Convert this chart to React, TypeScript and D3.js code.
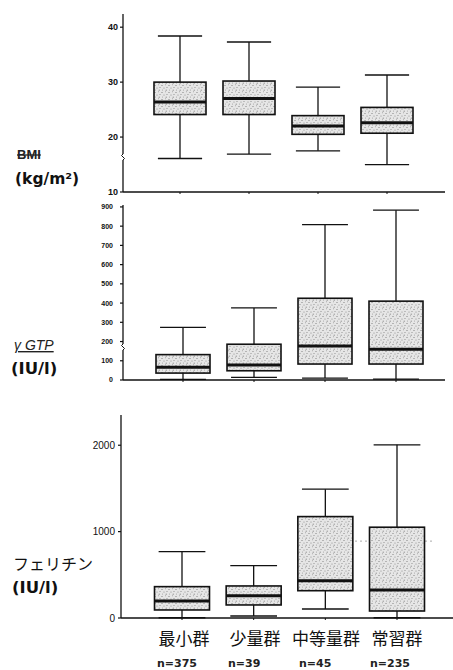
import React from "react";
import * as d3 from "d3";

// Drinking groups and sample sizes
const groups = ["最小群", "少量群", "中等量群", "常習群"];
const counts = [375, 39, 45, 235];

// BMI (kg/m²) box statistics per group
const bmiMin = [16.1, 16.9, 17.5, 15.0];
const bmiQ1 = [24.1, 24.1, 20.5, 20.7];
const bmiMed = [26.4, 27.0, 22.0, 22.6];
const bmiQ3 = [30.0, 30.2, 23.9, 25.4];
const bmiMax = [38.4, 37.3, 29.1, 31.3];
const bmiTicks = [10, 20, 30, 40];

// γGTP (IU/l) box statistics per group
const gtpMin = [3, 14, 10, 5];
const gtpQ1 = [36, 48, 83, 83];
const gtpMed = [66, 78, 177, 160];
const gtpQ3 = [132, 186, 425, 410];
const gtpMax = [274, 375, 808, 883];
const gtpTicks = [0, 100, 200, 300, 400, 500, 600, 700, 800, 900];

// Ferritin (IU/l) box statistics per group
const ferMin = [3, 23, 104, 3];
const ferQ1 = [93, 151, 316, 81];
const ferMed = [197, 258, 432, 324];
const ferQ3 = [363, 371, 1174, 1051];
const ferMax = [768, 606, 1491, 2005];
const ferTicks = [0, 1000, 2000];
const ferRefLine = 890;

type Stats = { min: number[]; q1: number[]; med: number[]; q3: number[]; max: number[] };

type PanelProps = {
  stats: Stats;
  ticks: number[];
  domain: [number, number];
  yRange: [number, number];
  axisX: number;
  axisRight: number;
  xCenters: [number, number];
  boxW: number;
  tickFont: number;
  tickWeight: number | string;
  tickGap: number;
  tickFamily: string;
  breakAt?: number;
  children?: React.ReactNode;
};

function BoxPanel(p: PanelProps) {
  const y = d3.scaleLinear().domain(p.domain).range(p.yRange);
  const x = d3.scalePoint<string>().domain(groups).range(p.xCenters);
  const bottom = p.yRange[0];
  const top = p.yRange[1];
  const capW = p.boxW * 0.85;
  return (
    <g>
      {/* y axis */}
      <line x1={p.axisX} x2={p.axisX} y1={top} y2={bottom} stroke="#111" strokeWidth={1.3} />
      {p.breakAt !== undefined && (
        <g>
          <rect x={p.axisX - 2} y={p.breakAt - 3} width={4} height={6} fill="#fff" />
          <path
            d={`M${p.axisX},${p.breakAt - 3} q-3,1.5 0,3 q3,1.5 0,3`}
            fill="none"
            stroke="#111"
            strokeWidth={1}
          />
        </g>
      )}
      {/* x axis */}
      <line x1={p.axisX} x2={p.axisRight} y1={bottom} y2={bottom} stroke="#111" strokeWidth={1.3} />
      {groups.map((g) => (
        <line key={g} x1={x(g)} x2={x(g)} y1={bottom} y2={bottom + 2} stroke="#111" strokeWidth={1} />
      ))}
      {p.ticks.map((t) => (
        <g key={t}>
          <line x1={p.axisX - 3} x2={p.axisX} y1={y(t)} y2={y(t)} stroke="#111" strokeWidth={1.2} />
          <text
            x={p.axisX - p.tickGap}
            y={y(t)}
            dy="0.35em"
            textAnchor="end"
            fontSize={p.tickFont}
            fontWeight={p.tickWeight}
            fontFamily={p.tickFamily}
            fill="#111"
          >
            {t}
          </text>
        </g>
      ))}
      {p.children}
      {groups.map((g, i) => {
        const cx = x(g) as number;
        const s = p.stats;
        return (
          <g key={g}>
            <line x1={cx} x2={cx} y1={y(s.max[i])} y2={y(s.q3[i])} stroke="#111" strokeWidth={1.3} />
            <line x1={cx} x2={cx} y1={y(s.q1[i])} y2={y(s.min[i])} stroke="#111" strokeWidth={1.3} />
            <line x1={cx - capW / 2} x2={cx + capW / 2} y1={y(s.max[i])} y2={y(s.max[i])} stroke="#111" strokeWidth={1.3} />
            <line x1={cx - capW / 2} x2={cx + capW / 2} y1={y(s.min[i])} y2={y(s.min[i])} stroke="#111" strokeWidth={1.3} />
            <rect
              x={cx - p.boxW / 2}
              y={y(s.q3[i])}
              width={p.boxW}
              height={y(s.q1[i]) - y(s.q3[i])}
              fill="url(#stipple)"
              stroke="#111"
              strokeWidth={1.6}
            />
            <line
              x1={cx - p.boxW / 2}
              x2={cx + p.boxW / 2}
              y1={y(s.med[i])}
              y2={y(s.med[i])}
              stroke="#111"
              strokeWidth={3}
            />
          </g>
        );
      })}
    </g>
  );
}

export default function App() {
  const sans = "'Liberation Sans', Arial, sans-serif";
  const heavy = "'DejaVu Sans', sans-serif";
  const cjk = "'Noto Sans CJK JP', sans-serif";
  const ferY = d3.scaleLinear().domain([0, 2350]).range([618, 415]);
  const labelX = d3.scalePoint<string>().domain(groups).range([184, 397]);
  return (
    <svg
      width={453}
      height={670}
      viewBox="0 0 453 670"
      style={{ position: "absolute", left: 0, top: 0, background: "#fff" }}
    >
      <defs>
        <pattern id="stipple" width={7} height={7} patternUnits="userSpaceOnUse">
          <rect width={7} height={7} fill="#e6e6e6" />
          <circle cx={1} cy={1.5} r={0.6} fill="#777" />
          <circle cx={4.5} cy={0.8} r={0.5} fill="#999" />
          <circle cx={3} cy={4} r={0.6} fill="#888" />
          <circle cx={6} cy={3.5} r={0.5} fill="#777" />
          <circle cx={1.5} cy={6} r={0.5} fill="#999" />
          <circle cx={5.2} cy={6.2} r={0.6} fill="#888" />
        </pattern>
      </defs>

      {/* BMI panel */}
      <BoxPanel
        stats={{ min: bmiMin, q1: bmiQ1, med: bmiMed, q3: bmiQ3, max: bmiMax }}
        ticks={bmiTicks}
        domain={[10, 42.4]}
        yRange={[192, 14]}
        axisX={123}
        axisRight={445}
        xCenters={[180, 387]}
        boxW={52}
        tickFont={9}
        tickWeight="bold"
        tickGap={5}
        tickFamily={sans}
        breakAt={157}
      />
      <text x={17} y={159} fontSize={13} fontWeight="bold" fontFamily={sans} fill="#222" textDecoration="line-through">
        BMI
      </text>
      <text x={15} y={184} fontSize={15.5} fontWeight="bold" fontFamily={heavy} fill="#111">
        (kg/m²)
      </text>

      {/* γGTP panel */}
      <BoxPanel
        stats={{ min: gtpMin, q1: gtpQ1, med: gtpMed, q3: gtpQ3, max: gtpMax }}
        ticks={gtpTicks}
        domain={[0, 910]}
        yRange={[380, 205]}
        axisX={123}
        axisRight={445}
        xCenters={[183, 396]}
        boxW={54}
        tickFont={7}
        tickWeight="bold"
        tickGap={10}
        tickFamily={sans}
        breakAt={347}
      />
      <text x={14} y={350} fontSize={14} fontStyle="italic" fontFamily={sans} fill="#222" textDecoration="underline">
        γ GTP
      </text>
      <text x={11} y={374} fontSize={16.5} fontWeight="bold" fontFamily={heavy} fill="#111">
        (IU/l)
      </text>

      {/* Ferritin panel */}
      <BoxPanel
        stats={{ min: ferMin, q1: ferQ1, med: ferMed, q3: ferQ3, max: ferMax }}
        ticks={ferTicks}
        domain={[0, 2350]}
        yRange={[618, 415]}
        axisX={121}
        axisRight={453}
        xCenters={[182, 397]}
        boxW={55}
        tickFont={10}
        tickWeight="normal"
        tickGap={6}
        tickFamily={sans}
      >
        <line
          x1={300}
          x2={434}
          y1={ferY(ferRefLine)}
          y2={ferY(ferRefLine)}
          stroke="#aaa"
          strokeWidth={1}
          strokeDasharray="2 3"
        />
      </BoxPanel>
      <text x={13} y={570} fontSize={16} fontFamily={cjk} fill="#111">
        フェリチン
      </text>
      <text x={12} y={593} fontSize={16.5} fontWeight="bold" fontFamily={heavy} fill="#111">
        (IU/l)
      </text>

      {/* group names and sample sizes */}
      {groups.map((g, i) => (
        <g key={g}>
          <text x={labelX(g)} y={645} textAnchor="middle" fontSize={17} fontFamily={cjk} fill="#111">
            {g}
          </text>
          <text
            x={(labelX(g) as number) - 27}
            y={667}
            fontSize={11}
            fontWeight="bold"
            fontFamily={heavy}
            fill="#222"
          >
            {`n=${counts[i]}`}
          </text>
        </g>
      ))}
    </svg>
  );
}
